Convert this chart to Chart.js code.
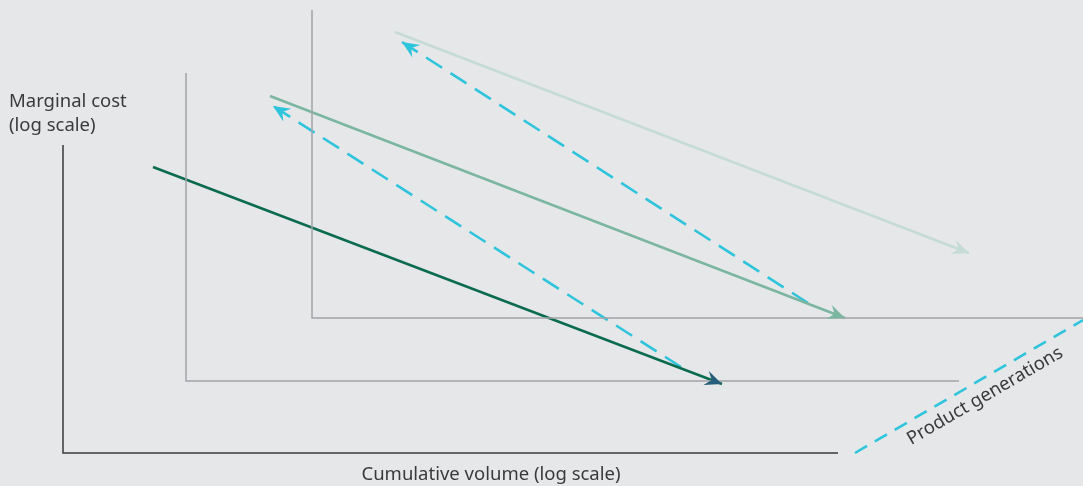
<!DOCTYPE html>
<html>
<head>
<meta charset="utf-8">
<script src="https://cdn.jsdelivr.net/npm/chart.js@4/dist/chart.umd.min.js"></script>
<style>
  html, body { margin: 0; padding: 0; background: #e6e7e9; }
  #wrap { width: 1083px; height: 486px; }
</style>
</head>
<body>
<div id="wrap"><canvas id="c" width="1083" height="486"></canvas></div>
<script>
// Schematic coordinates (x to the right, y downward), one unit per pixel
const frontAxis = [[63, 145], [63, 453], [838, 453]];
const middleAxis = [[186, 73], [186, 381], [959, 381]];
const backAxis = [[312, 10], [312, 318], [1083, 318]];
const curveGen1 = [[153, 167], [722, 384]];
const curveGen2 = [[270, 96], [845, 318]];
const curveGen3 = [[395, 32], [969, 253]];
const shift1 = [[681, 367], [273, 106]];
const shift2 = [[808, 303], [402, 42]];
const generationsLine = [[855, 453], [1083, 320]];
const yAxisLabel = ['Marginal cost', '(log scale)'];
const xAxisLabel = 'Cumulative volume (log scale)';
const generationsLabel = 'Product generations';

const toPts = arr => arr.map(p => ({ x: p[0], y: p[1] }));

const FONT = '"Noto Sans", "Open Sans", sans-serif';

function ds(data, color, width, opts) {
  return Object.assign({
    data: toPts(data), showLine: true, borderColor: color, backgroundColor: color,
    borderWidth: width, pointRadius: 0, fill: false, tension: 0
  }, opts || {});
}

const datasets = [
  ds(backAxis, '#a3a4a6', 1.5),
  ds(middleAxis, '#a3a4a6', 1.5),
  ds(frontAxis, '#3a3a3a', 1.5),
  ds(curveGen3, '#c5dcd4', 2.5, { arrow: true }),
  ds(curveGen2, '#7bb6a1', 2.5, { arrow: true }),
  ds(curveGen1, '#0b6b4f', 2.5, { arrow: true, arrowColor: '#245e7a' }),
  ds(shift1, '#2ec4dc', 2.6, { borderDash: [19, 10], arrow: true }),
  ds(shift2, '#2ec4dc', 2.6, { borderDash: [19, 10], arrow: true }),
  ds(generationsLine, '#2ec4dc', 2.6, { borderDash: [14, 9] })
];

const arrowPlugin = {
  id: 'arrows',
  afterDatasetsDraw(chart) {
    const ctx = chart.ctx;
    chart.data.datasets.forEach((d, i) => {
      if (!d.arrow) return;
      const meta = chart.getDatasetMeta(i);
      const n = meta.data.length;
      const a = meta.data[n - 2], b = meta.data[n - 1];
      const ang = Math.atan2(b.y - a.y, b.x - a.x);
      const L = 17, W = 7.5, notch = 11;
      ctx.save();
      ctx.translate(b.x, b.y);
      ctx.rotate(ang);
      ctx.beginPath();
      ctx.moveTo(0, 0);
      ctx.lineTo(-L, -W);
      ctx.lineTo(-notch, 0);
      ctx.lineTo(-L, W);
      ctx.closePath();
      ctx.fillStyle = d.arrowColor || d.borderColor;
      ctx.fill();
      ctx.restore();
    });
  }
};

const labelPlugin = {
  id: 'labels',
  afterDraw(chart) {
    const ctx = chart.ctx;
    const xs = chart.scales.x, ys = chart.scales.y;
    ctx.save();
    ctx.fillStyle = '#3a3a3a';
    ctx.font = '400 18.5px ' + FONT;
    ctx.textAlign = 'left';
    ctx.textBaseline = 'alphabetic';
    ctx.fillText(yAxisLabel[0], xs.getPixelForValue(9), ys.getPixelForValue(107));
    ctx.fillText(yAxisLabel[1], xs.getPixelForValue(9), ys.getPixelForValue(131));
    ctx.textAlign = 'center';
    ctx.fillText(xAxisLabel, xs.getPixelForValue(491), ys.getPixelForValue(480));
    // rotated label along the generations line
    const p0 = generationsLine[0], p1 = generationsLine[1];
    const ang = Math.atan2(ys.getPixelForValue(p1[1]) - ys.getPixelForValue(p0[1]),
                           xs.getPixelForValue(p1[0]) - xs.getPixelForValue(p0[0]));
    ctx.translate(xs.getPixelForValue(985), ys.getPixelForValue(396));
    ctx.rotate(ang);
    ctx.textBaseline = 'middle';
    ctx.fillText(generationsLabel, 0, 0);
    ctx.restore();
  }
};

const bgPlugin = {
  id: 'bg',
  beforeDraw(chart) {
    const ctx = chart.ctx;
    ctx.save();
    ctx.fillStyle = '#e6e7e9';
    ctx.fillRect(0, 0, chart.width, chart.height);
    ctx.restore();
  }
};

new Chart(document.getElementById('c'), {
  type: 'scatter',
  data: { datasets },
  options: {
    responsive: false,
    animation: false,
    layout: { padding: 0 },
    plugins: { legend: { display: false }, tooltip: { enabled: false } },
    scales: {
      x: { type: 'linear', min: 0, max: 1083, display: false },
      y: { type: 'linear', min: 0, max: 486, reverse: true, display: false }
    },
    elements: { line: { borderCapStyle: 'butt' } }
  },
  plugins: [bgPlugin, arrowPlugin, labelPlugin]
});
</script>
</body>
</html>
